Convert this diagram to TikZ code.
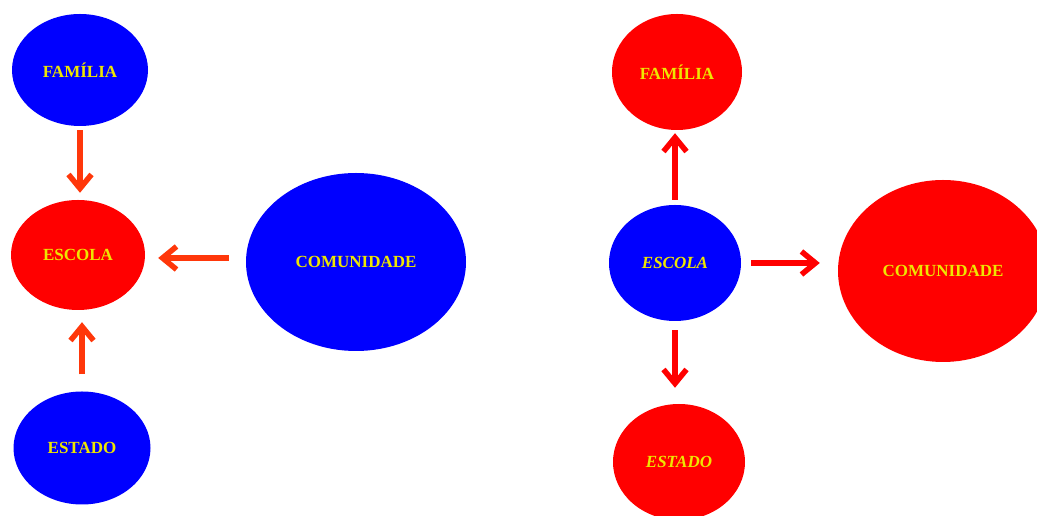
\documentclass[tikz,border=0pt]{standalone}
\usepackage{fontspec}
\setmainfont{Liberation Serif}
\usetikzlibrary{shapes.geometric,arrows.meta}

\definecolor{bolablue}{RGB}{0,0,255}
\definecolor{bolared}{RGB}{255,0,0}
\definecolor{textyellow}{RGB}{238,230,0}
\definecolor{setaorange}{RGB}{255,55,10}

\tikzset{
    bola/.style={ellipse,inner sep=0pt,text=textyellow,font=\fontsize{17}{19}\selectfont\bfseries},
    azul/.style={bola,fill=bolablue},
    verm/.style={bola,fill=bolared},
    seta/.style={line width=5.5pt,-{Straight Barb[length=14pt,width=23pt,line width=5.5pt]}},
}

\begin{document}
\begin{tikzpicture}[x=1pt,y=1pt]
    \useasboundingbox (0,0) rectangle (1037,516);
    \node[azul,minimum width=136pt,minimum height=112pt] at (80,446) (fam1) {FAMÍLIA};
    \node[verm,minimum width=134pt,minimum height=110pt] at (78,261) (esc1) {ESCOLA};
    \node[azul,minimum width=137pt,minimum height=113pt] at (82,68) (est1) {ESTADO};
    \node[azul,minimum width=220pt,minimum height=178pt] at (356,254) (com1) {COMUNIDADE};
    \draw[seta,setaorange,shorten <=4pt,shorten >=7pt] (fam1.south) -- (fam1.south |- esc1.north);
    \draw[seta,setaorange,shorten <=17pt,shorten >=13pt] ([yshift=4pt]com1.west) -- ([yshift=4pt]com1.west -| esc1.east);
    \draw[seta,setaorange,shorten <=17pt,shorten >=12pt] (est1.north) -- (est1.north |- esc1.south);

    \node[verm,minimum width=130pt,minimum height=116pt] at (677,444) (fam2) {FAMÍLIA};
    \node[azul,minimum width=132pt,minimum height=116pt] at (675,253) (esc2) {\itshape ESCOLA};
    \node[verm,minimum width=132pt,minimum height=116pt] at (679,54) (est2) {\itshape ESTADO};
    \node[verm,minimum width=210pt,minimum height=182pt] at (943,245) (com2) {COMUNIDADE};
    \draw[seta,bolared,shorten <=5pt,shorten >=3pt] (esc2.north) -- (esc2.north |- fam2.south);
    \draw[seta,bolared,shorten <=10pt,shorten >=18pt] (esc2.east) -- (esc2.east -| com2.west);
    \draw[seta,bolared,shorten <=9pt,shorten >=16pt] (esc2.south) -- (esc2.south |- est2.north);
\end{tikzpicture}
\end{document}
